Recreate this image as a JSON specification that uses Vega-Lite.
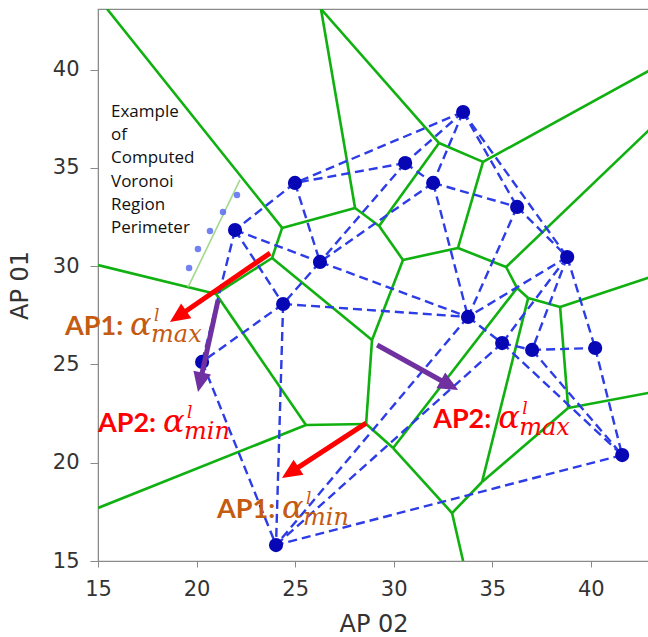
{
  "$schema": "https://vega.github.io/schema/vega-lite/v6.json",
  "width": 551,
  "height": 552,
  "autosize": {"type": "none"},
  "padding": {"left": 98, "top": 9, "right": 0, "bottom": 76},
  "background": "white",
  "config": {
    "view": {"stroke": "#8a8a8a", "strokeWidth": 1.2},
    "axis": {
      "grid": false,
      "domainColor": "#8a8a8a",
      "tickColor": "#8a8a8a",
      "labelFont": "DejaVu Sans",
      "labelFontSize": 21,
      "labelColor": "#333333",
      "labelFlush": false,
      "labelOverlap": false,
      "titleFont": "DejaVu Sans",
      "titleFontSize": 24,
      "titleFontWeight": "normal",
      "titleColor": "#333333"
    },
    "axisX": {"tickSize": 6, "labelPadding": 11, "titlePadding": 13},
    "axisY": {"tickSize": 8, "labelPadding": 11, "titlePadding": 20}
  },
  "datasets": {
    "sites": [
      {"id": "P1", "x": 33.52, "y": 37.85},
      {"id": "P2", "x": 30.58, "y": 35.25},
      {"id": "P3", "x": 32.00, "y": 34.24},
      {"id": "P4", "x": 36.26, "y": 33.02},
      {"id": "P5", "x": 38.80, "y": 30.47},
      {"id": "P6", "x": 24.99, "y": 34.24},
      {"id": "P7", "x": 21.95, "y": 31.84},
      {"id": "P8", "x": 26.26, "y": 30.22},
      {"id": "P9", "x": 24.39, "y": 28.08},
      {"id": "P10", "x": 33.77, "y": 27.42},
      {"id": "P11", "x": 35.50, "y": 26.09},
      {"id": "P12", "x": 37.02, "y": 25.74},
      {"id": "P13", "x": 40.22, "y": 25.84},
      {"id": "P14", "x": 41.59, "y": 20.39},
      {"id": "P15", "x": 20.28, "y": 25.13},
      {"id": "P16", "x": 24.03, "y": 15.81}
    ],
    "delaunay": [
      {"a": "P1", "b": "P2"}, {"a": "P1", "b": "P3"}, {"a": "P1", "b": "P4"}, {"a": "P1", "b": "P5"}, {"a": "P1", "b": "P6"},
      {"a": "P2", "b": "P3"}, {"a": "P2", "b": "P6"}, {"a": "P2", "b": "P8"},
      {"a": "P3", "b": "P4"}, {"a": "P3", "b": "P8"}, {"a": "P3", "b": "P10"},
      {"a": "P4", "b": "P5"}, {"a": "P4", "b": "P10"},
      {"a": "P5", "b": "P10"}, {"a": "P5", "b": "P11"}, {"a": "P5", "b": "P12"}, {"a": "P5", "b": "P13"},
      {"a": "P6", "b": "P7"}, {"a": "P6", "b": "P8"},
      {"a": "P7", "b": "P8"}, {"a": "P7", "b": "P9"}, {"a": "P7", "b": "P15"},
      {"a": "P8", "b": "P9"}, {"a": "P8", "b": "P10"},
      {"a": "P9", "b": "P10"}, {"a": "P9", "b": "P15"}, {"a": "P9", "b": "P16"},
      {"a": "P10", "b": "P11"}, {"a": "P10", "b": "P16"},
      {"a": "P11", "b": "P12"}, {"a": "P11", "b": "P14"}, {"a": "P11", "b": "P16"},
      {"a": "P12", "b": "P13"}, {"a": "P12", "b": "P14"},
      {"a": "P13", "b": "P14"},
      {"a": "P14", "b": "P16"}, {"a": "P15", "b": "P16"}
    ],
    "vertices": [
      {"id": "A", "x": 24.34, "y": 31.95},
      {"id": "B", "x": 28.04, "y": 32.96},
      {"id": "C", "x": 23.83, "y": 30.42},
      {"id": "D", "x": 20.99, "y": 28.59},
      {"id": "E", "x": 28.90, "y": 26.25},
      {"id": "F", "x": 25.55, "y": 21.92},
      {"id": "G", "x": 28.60, "y": 21.97},
      {"id": "H", "x": 29.97, "y": 20.75},
      {"id": "I", "x": 32.96, "y": 17.44},
      {"id": "J", "x": 34.48, "y": 19.02},
      {"id": "K", "x": 38.85, "y": 22.79},
      {"id": "L", "x": 38.44, "y": 27.93},
      {"id": "M", "x": 32.30, "y": 36.27},
      {"id": "N", "x": 29.26, "y": 32.05},
      {"id": "O", "x": 30.47, "y": 30.32},
      {"id": "P", "x": 33.26, "y": 30.93},
      {"id": "Q", "x": 34.53, "y": 35.31},
      {"id": "R", "x": 35.70, "y": 29.96},
      {"id": "S", "x": 36.26, "y": 28.89},
      {"id": "T", "x": 36.82, "y": 28.38},
      {"id": "TL", "x": 15.46, "y": 43.09},
      {"id": "TOP", "x": 26.31, "y": 43.09},
      {"id": "W1", "x": 15.0, "y": 30.06},
      {"id": "W2", "x": 15.0, "y": 17.70},
      {"id": "BOT", "x": 33.52, "y": 15.0},
      {"id": "E1", "x": 42.95, "y": 39.95},
      {"id": "E2", "x": 42.95, "y": 36.93},
      {"id": "E3", "x": 42.95, "y": 29.42},
      {"id": "E4", "x": 42.95, "y": 23.56}
    ],
    "voronoi": [
      {"a": "TL", "b": "A"}, {"a": "A", "b": "B"}, {"a": "A", "b": "C"},
      {"a": "B", "b": "TOP"}, {"a": "B", "b": "N"},
      {"a": "C", "b": "D"}, {"a": "C", "b": "E"},
      {"a": "D", "b": "W1"}, {"a": "D", "b": "F"},
      {"a": "F", "b": "W2"}, {"a": "F", "b": "G"},
      {"a": "G", "b": "E"}, {"a": "G", "b": "H"},
      {"a": "H", "b": "I"}, {"a": "H", "b": "S"},
      {"a": "I", "b": "BOT"}, {"a": "I", "b": "J"},
      {"a": "J", "b": "T"}, {"a": "J", "b": "K"},
      {"a": "K", "b": "L"}, {"a": "K", "b": "E4"},
      {"a": "L", "b": "T"}, {"a": "L", "b": "E3"},
      {"a": "T", "b": "S"}, {"a": "S", "b": "R"},
      {"a": "R", "b": "P"}, {"a": "R", "b": "E2"},
      {"a": "P", "b": "O"}, {"a": "P", "b": "Q"},
      {"a": "Q", "b": "M"}, {"a": "Q", "b": "E1"},
      {"a": "M", "b": "TOP"}, {"a": "M", "b": "N"},
      {"a": "N", "b": "O"}, {"a": "O", "b": "E"}
    ],
    "perimeter": [
      {"x": 19.57, "y": 28.94, "x2": 22.20, "y2": 34.39}
    ],
    "perimeterDots": [
      {"x": 19.62, "y": 29.91},
      {"x": 20.07, "y": 30.88},
      {"x": 20.68, "y": 31.79},
      {"x": 21.34, "y": 32.76},
      {"x": 22.05, "y": 33.63}
    ],
    "arrows": [
      {"ap": "AP1", "bound": "max", "x": 23.73, "y": 30.67, "x2": 19.10, "y2": 27.47},
      {"ap": "AP2", "bound": "min", "x": 21.09, "y": 28.28, "x2": 20.19, "y2": 24.14},
      {"ap": "AP1", "bound": "min", "x": 28.60, "y": 22.02, "x2": 24.79, "y2": 19.52},
      {"ap": "AP2", "bound": "max", "x": 29.16, "y": 25.99, "x2": 32.79, "y2": 23.97}
    ],
    "labels": [
      {"ap": "AP1", "bound": "max", "x": 13.33, "y": 26.50},
      {"ap": "AP2", "bound": "min", "x": 15.00, "y": 21.56},
      {"ap": "AP1", "bound": "min", "x": 21.04, "y": 17.19},
      {"ap": "AP2", "bound": "max", "x": 32.00, "y": 21.77}
    ],
    "note": [
      {"x": 15.66, "y": 37.60, "text": "Example\nof\nComputed\nVoronoi\nRegion\nPerimeter"}
    ]
  },
  "encoding": {
    "x": {
      "field": "x", "type": "quantitative",
      "scale": {"domain": [15, 42.95], "nice": false, "zero": false},
      "axis": {"title": "AP 02", "values": [15, 20, 25, 30, 35, 40]}
    },
    "y": {
      "field": "y", "type": "quantitative",
      "scale": {"domain": [15, 43.09], "nice": false, "zero": false},
      "axis": {"title": "AP 01", "values": [15, 20, 25, 30, 35, 40]}
    }
  },
  "layer": [
    {
      "data": {"name": "voronoi"},
      "transform": [
        {"lookup": "a", "from": {"data": {"name": "vertices"}, "key": "id", "fields": ["x", "y"]}},
        {"lookup": "b", "from": {"data": {"name": "vertices"}, "key": "id", "fields": ["x", "y"]}, "as": ["x2", "y2"]}
      ],
      "mark": {"type": "rule", "color": "#0fb00f", "strokeWidth": 2.6, "clip": true},
      "encoding": {"x2": {"field": "x2"}, "y2": {"field": "y2"}}
    },
    {
      "data": {"name": "perimeter"},
      "mark": {"type": "rule", "color": "#a3d98c", "strokeWidth": 1.6},
      "encoding": {"x2": {"field": "x2"}, "y2": {"field": "y2"}}
    },
    {
      "data": {"name": "delaunay"},
      "transform": [
        {"lookup": "a", "from": {"data": {"name": "sites"}, "key": "id", "fields": ["x", "y"]}},
        {"lookup": "b", "from": {"data": {"name": "sites"}, "key": "id", "fields": ["x", "y"]}, "as": ["x2", "y2"]}
      ],
      "mark": {"type": "rule", "color": "#2c3ce6", "strokeWidth": 2.4, "strokeDash": [9, 5]},
      "encoding": {"x2": {"field": "x2"}, "y2": {"field": "y2"}}
    },
    {
      "data": {"name": "perimeterDots"},
      "mark": {"type": "circle", "color": "#5a6cf0", "size": 42, "opacity": 0.85}
    },
    {
      "data": {"name": "sites"},
      "mark": {"type": "circle", "color": "#0707b5", "size": 200, "opacity": 1}
    },
    {
      "data": {"name": "note"},
      "mark": {"type": "text", "font": "Open Sans", "fontSize": 17, "color": "#111111", "align": "left", "baseline": "alphabetic", "lineBreak": "\n", "lineHeight": 23.3},
      "encoding": {"text": {"field": "text"}}
    },
    {
      "data": {"name": "arrows"},
      "mark": {"type": "rule", "strokeWidth": 5, "strokeCap": "butt"},
      "encoding": {
        "x2": {"field": "x2"}, "y2": {"field": "y2"},
        "color": {"condition": {"test": "datum.ap === 'AP1'", "value": "#ff0000"}, "value": "#7030a0"}
      }
    },
    {
      "data": {"name": "arrows"},
      "transform": [
        {"calculate": "atan2(datum.x2 - datum.x, datum.y2 - datum.y) * 180 / PI", "as": "heading"}
      ],
      "mark": {"type": "point", "shape": "M0,-1.2L-1,1L1,1Z", "filled": true, "size": 324, "opacity": 1},
      "encoding": {
        "x": {
          "field": "x2", "type": "quantitative",
          "scale": {"domain": [15, 42.95], "nice": false, "zero": false},
          "axis": {"title": "AP 02", "values": [15, 20, 25, 30, 35, 40]}
        },
        "y": {
          "field": "y2", "type": "quantitative",
          "scale": {"domain": [15, 43.09], "nice": false, "zero": false},
          "axis": {"title": "AP 01", "values": [15, 20, 25, 30, 35, 40]}
        },
        "angle": {"field": "heading", "type": "quantitative", "scale": null},
        "color": {"condition": {"test": "datum.ap === 'AP1'", "value": "#ff0000"}, "value": "#7030a0"}
      }
    },
    {
      "data": {"name": "labels"},
      "transform": [{"calculate": "datum.ap + ':'", "as": "head"}],
      "mark": {"type": "text", "font": "Lato", "fontWeight": "bold", "fontSize": 27, "align": "left", "baseline": "alphabetic"},
      "encoding": {
        "text": {"field": "head"},
        "color": {"condition": {"test": "datum.ap === 'AP1'", "value": "#c55a11"}, "value": "#ff0000"}
      }
    },
    {
      "data": {"name": "labels"},
      "mark": {"type": "text", "font": "DejaVu Serif", "fontStyle": "italic", "fontSize": 32, "align": "left", "baseline": "alphabetic", "dx": 65},
      "encoding": {
        "text": {"value": "α"},
        "color": {"condition": {"test": "datum.ap === 'AP1'", "value": "#c55a11"}, "value": "#ff0000"}
      }
    },
    {
      "data": {"name": "labels"},
      "mark": {"type": "text", "font": "DejaVu Serif", "fontStyle": "italic", "fontSize": 17, "align": "left", "baseline": "alphabetic", "dx": 89, "dy": -14},
      "encoding": {
        "text": {"value": "l"},
        "color": {"condition": {"test": "datum.ap === 'AP1'", "value": "#c55a11"}, "value": "#ff0000"}
      }
    },
    {
      "data": {"name": "labels"},
      "mark": {"type": "text", "font": "DejaVu Serif", "fontStyle": "italic", "fontSize": 24, "align": "left", "baseline": "alphabetic", "dx": 86, "dy": 7},
      "encoding": {
        "text": {"field": "bound"},
        "color": {"condition": {"test": "datum.ap === 'AP1'", "value": "#c55a11"}, "value": "#ff0000"}
      }
    }
  ]
}
